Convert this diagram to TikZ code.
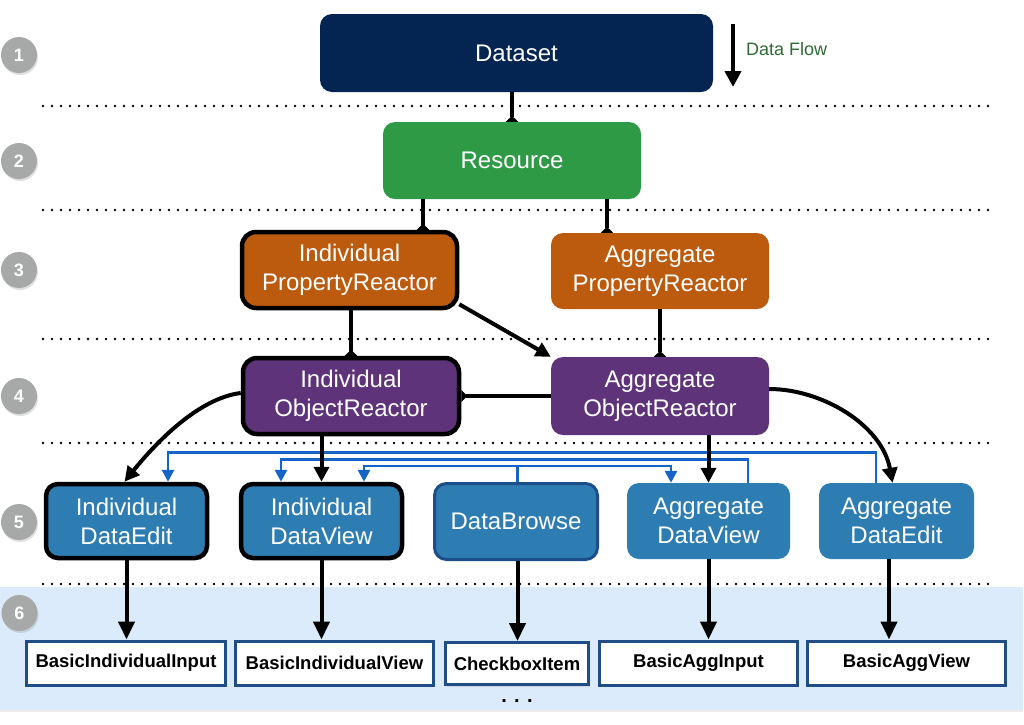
\documentclass[tikz,border=0pt]{standalone}
\usepackage{fontspec}
\setmainfont{Liberation Sans}
\usetikzlibrary{arrows.meta,shadows}
\definecolor{cnavy}{HTML}{042552}
\definecolor{cgreen}{HTML}{2F9A46}
\definecolor{corange}{HTML}{BC5A0E}
\definecolor{cpurple}{HTML}{5E3379}
\definecolor{cbox}{HTML}{2E7DB2}
\definecolor{cdb}{HTML}{1C4F8A}
\definecolor{cblue}{HTML}{1565C8}
\definecolor{cbord}{HTML}{1F4E85}
\definecolor{cbg}{HTML}{DCEBFB}
\definecolor{cflow}{HTML}{2F6B34}
\definecolor{cgray}{HTML}{A7A9A8}
\begin{document}
\begin{tikzpicture}[x=1pt,y=-1pt,
  box/.style={rounded corners=12pt, text=white, align=center, inner sep=0pt,
    font=\fontsize{24}{29}\selectfont},
  thickb/.style={draw=black, line width=4.5pt},
  num/.style={circle, fill=cgray, minimum size=36pt, inner sep=0pt, text=white,
    font=\bfseries\fontsize{18}{18}\selectfont,
    drop shadow={shadow xshift=1pt, shadow yshift=-2pt, opacity=0.25}},
  bbox/.style={draw=cbord, line width=3pt, fill=white, inner sep=0pt,
    minimum height=44pt, font=\bfseries\fontsize{18.5}{18.5}\selectfont,
    drop shadow={shadow xshift=1pt, shadow yshift=-2pt, opacity=0.2}},
  conn/.style={line width=4pt, draw=black},
  arr/.style={conn, -{Triangle[width=15pt,length=15pt]}},
  arrb/.style={conn, -{Triangle[width=16pt,length=18pt]}},
  tail/.style={conn, -{Triangle[reversed,width=12pt,length=6pt]}},
  bl/.style={line width=2.8pt, draw=cblue, -{Triangle[width=12pt,length=12pt]}},
  dotl/.style={line width=2.6pt, line cap=round, dash pattern=on 0pt off 9pt}
]
\useasboundingbox (0,0) rectangle (1024,724);
\fill[white] (0,0) rectangle (1024,724);
% background of row 6
\fill[cbg, drop shadow={shadow xshift=0pt, shadow yshift=-2pt, opacity=0.15}] (0,587) rectangle (1023,710);
% dotted separators
\foreach \yy in {106,210,339,443,584} \draw[dotl] (43,\yy) -- (991,\yy);

% level numbers
\node[num] (n1) at (19,55) {1};
\node[num] (n2) at (19,161) {2};
\node[num] (n3) at (19,270) {3};
\node[num] (n4) at (19,396) {4};
\node[num] (n5) at (19,522) {5};
\node[num] (n6) at (19.5,613) {6};

% boxes
\node[box, fill=cnavy, minimum width=393pt, minimum height=78pt] (ds) at (516.5,53) {Dataset};
\node[box, fill=cgreen, minimum width=258pt, minimum height=77pt] (res) at (512,160.5) {Resource};
\node[box, thickb, fill=corange, rounded corners=14pt, minimum width=215pt, minimum height=76pt] (ipr) at (349.5,270) {Individual\\PropertyReactor};
\node[box, fill=corange, minimum width=218pt, minimum height=76pt] (apr) at (660,271) {Aggregate\\PropertyReactor};
\node[box, thickb, fill=cpurple, rounded corners=14pt, minimum width=216pt, minimum height=76pt] (ior) at (351,396) {Individual\\ObjectReactor};
\node[box, fill=cpurple, minimum width=218pt, minimum height=78pt] (aor) at (660,396) {Aggregate\\ObjectReactor};
\node[box, thickb, fill=cbox, minimum width=161pt, minimum height=74pt] (ide) at (126.5,521) {Individual\\DataEdit};
\node[box, thickb, fill=cbox, minimum width=161pt, minimum height=74pt] (idv) at (321.5,521) {Individual\\DataView};
\node[box, draw=cdb, line width=3pt, fill=cbox, minimum width=163pt, minimum height=76pt] (db) at (516,521.5) {DataBrowse};
\node[box, fill=cbox, minimum width=163pt, minimum height=76pt] (adv) at (708.5,521) {Aggregate\\DataView};
\node[box, fill=cbox, minimum width=155pt, minimum height=76pt] (ade) at (896.5,521) {Aggregate\\DataEdit};

\node[bbox, minimum width=199pt] (bii) at (126,663) {BasicIndividualInput};
\node[bbox, minimum width=198pt] (biv) at (334.5,663) {BasicIndividualView};
\node[bbox, minimum width=143pt, minimum height=42pt] (cbi) at (517,663.5) {CheckboxItem};
\node[bbox, minimum width=198pt] (bai) at (698.5,663) {BasicAggInput};
\node[bbox, minimum width=198pt] (bav) at (906.5,663) {BasicAggView};
\node[font=\bfseries\fontsize{20}{20}\selectfont, inner sep=0pt] (more) at (517,701) {. . .};

% data flow legend
\coordinate (df1) at (733,24);
\coordinate (df2) at (733,87);
\draw[conn, -{Triangle[width=16pt,length=16pt]}] (df1) -- (df2);
\node[anchor=west, text=cflow, font=\fontsize{18}{18}\selectfont, inner sep=0pt] (dflbl) at (746,49) {Data Flow};

% blue links
\draw[bl] ([xshift=-20.5pt]ade.north) -- ++(0,-30) -| ([xshift=41.5pt]ide.north);
\draw[bl] ([xshift=39.5pt]adv.north) -- ++(0,-23) -| ([xshift=-40.5pt]idv.north);
\draw[bl] ([xshift=1.5pt]db.north) -- ++(0,-16) coordinate (cj) -| ([xshift=42.5pt]idv.north);
\draw[bl] (cj) -| ([xshift=-37.5pt]adv.north);

% black connectors
\path ([xshift=73.5pt]ipr.north) coordinate (ripr);
\path ([xshift=-53pt]apr.north) coordinate (rapr);
\draw[tail] (ds.south -| res.north) -- (res.north);
\draw[tail] (res.south -| ripr) -- (ripr);
\draw[tail] (res.south -| rapr) -- (rapr);
\draw[tail] (ipr.south -| ior.north) -- (ior.north);
\draw[tail] (apr.south) -- (aor.north);
\draw[tail] (aor.west) -- (ior.east);
\draw[arr] ([yshift=6pt]ipr.south east) -- (aor.north west);
\draw[arr] ([yshift=3pt]ior.west) .. controls (200,398) and (158,440) .. ([xshift=-2pt]ide.north);
\draw[arr] ([yshift=7pt]aor.east) .. controls (822,389) and (882,425) .. ([xshift=-4pt]ade.north);
\draw[arr] (idv.north |- ior.south) -- (idv.north);
\draw[arr] (adv.north |- aor.south) -- (adv.north);

\path ([xshift=-7.5pt]ade.south) coordinate (ades);
\path ([xshift=1.5pt]db.south) coordinate (dbs);
\draw[arrb] (ide.south) -- (ide.south |- bii.north);
\draw[arrb] (idv.south) -- (idv.south |- biv.north);
\draw[arrb] (dbs) -- (dbs |- cbi.north);
\draw[arrb] (adv.south) -- (adv.south |- bai.north);
\draw[arrb] (ades) -- (ades |- bav.north);
\end{tikzpicture}
\end{document}
